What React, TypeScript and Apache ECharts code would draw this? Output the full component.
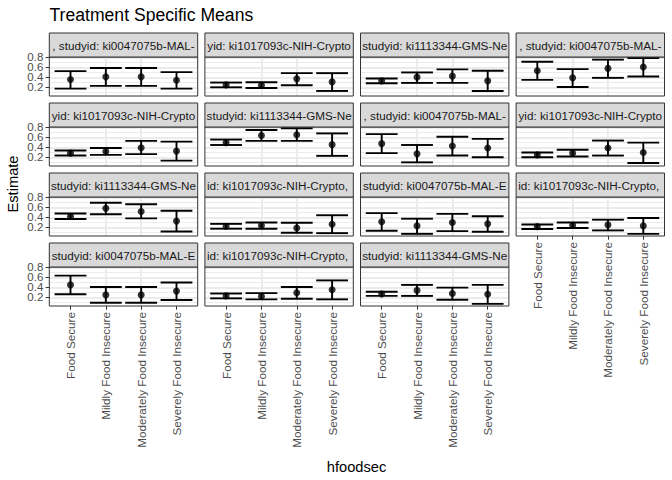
import React, { useEffect, useRef } from "react";
import * as echarts from "echarts";

const categories = [
  "Food Secure",
  "Mildly Food Insecure",
  "Moderately Food Insecure",
  "Severely Food Insecure",
];

const stripLabels = [
  ", studyid: ki0047075b-MAL-",
  "yid: ki1017093c-NIH-Crypto",
  "studyid: ki1113344-GMS-Ne",
  ", studyid: ki0047075b-MAL-",
  "yid: ki1017093c-NIH-Crypto",
  "studyid: ki1113344-GMS-Ne",
  ", studyid: ki0047075b-MAL-",
  "yid: ki1017093c-NIH-Crypto",
  "studyid: ki1113344-GMS-Ne",
  "id: ki1017093c-NIH-Crypto, ",
  "studyid: ki0047075b-MAL-E",
  "id: ki1017093c-NIH-Crypto, ",
  "studyid: ki0047075b-MAL-E",
  "id: ki1017093c-NIH-Crypto, ",
  "studyid: ki1113344-GMS-Ne",
];

const estimate = [
  [0.356, 0.409, 0.409, 0.342],
  [0.248, 0.241, 0.369, 0.308],
  [0.329, 0.403, 0.423, 0.329],
  [0.531, 0.389, 0.578, 0.605],
  [0.283, 0.317, 0.392, 0.324],
  [0.494, 0.637, 0.65, 0.453],
  [0.473, 0.269, 0.426, 0.385],
  [0.249, 0.283, 0.385, 0.297],
  [0.421, 0.579, 0.517, 0.324],
  [0.221, 0.234, 0.186, 0.262],
  [0.31, 0.228, 0.297, 0.269],
  [0.214, 0.241, 0.248, 0.228],
  [0.448, 0.248, 0.248, 0.324],
  [0.228, 0.221, 0.29, 0.352],
  [0.269, 0.338, 0.276, 0.262],
];

const lower = [
  [0.174, 0.228, 0.228, 0.174],
  [0.2, 0.187, 0.241, 0.127],
  [0.281, 0.288, 0.288, 0.127],
  [0.349, 0.207, 0.389, 0.416],
  [0.235, 0.249, 0.263, 0.133],
  [0.446, 0.528, 0.528, 0.229],
  [0.283, 0.099, 0.235, 0.201],
  [0.201, 0.215, 0.235, 0.086],
  [0.366, 0.462, 0.379, 0.117],
  [0.172, 0.172, 0.09, 0.083],
  [0.131, 0.069, 0.124, 0.11],
  [0.166, 0.186, 0.138, 0.069],
  [0.262, 0.09, 0.09, 0.145],
  [0.179, 0.159, 0.172, 0.159],
  [0.228, 0.228, 0.152, 0.069],
];

const upper = [
  [0.524, 0.585, 0.585, 0.504],
  [0.295, 0.3, 0.483, 0.483],
  [0.376, 0.497, 0.558, 0.531],
  [0.712, 0.564, 0.753, 0.787],
  [0.337, 0.385, 0.528, 0.514],
  [0.555, 0.746, 0.78, 0.678],
  [0.664, 0.446, 0.61, 0.569],
  [0.297, 0.351, 0.535, 0.494],
  [0.476, 0.69, 0.662, 0.531],
  [0.269, 0.297, 0.29, 0.441],
  [0.483, 0.372, 0.469, 0.421],
  [0.255, 0.297, 0.352, 0.386],
  [0.634, 0.407, 0.407, 0.497],
  [0.276, 0.283, 0.407, 0.538],
  [0.31, 0.448, 0.393, 0.448],
];

const yTicks = [0.2, 0.4, 0.6, 0.8];
const xTicks = [1, 2, 3, 4];
const Y_MIN = 0.026;
const Y_MAX = 0.806;

const FONT = "'Liberation Sans', Arial, Helvetica, sans-serif";
const COLS = 4;
const PANEL_LEFT0 = 49.3;
const PANEL_PITCH_X = 155.6;
const PANEL_W = 148.4;
const STRIP_TOP0 = 33;
const ROW_PITCH = 70;
const STRIP_H = 24;
const PANEL_H = 39;

export default function App() {
  const ref = useRef<HTMLDivElement>(null);

  useEffect(() => {
    if (!ref.current) return;
    const chart = echarts.init(ref.current, undefined, { renderer: "svg" });
    const n = stripLabels.length;
    const grids: any[] = [];
    const xAxes: any[] = [];
    const yAxes: any[] = [];
    const series: any[] = [];
    const graphics: any[] = [];
    // extents wrap the real ticks; ECharts hides the first/last entry
    const yTickValues = [Y_MIN, ...yTicks, Y_MAX];

    for (let k = 0; k < n; k++) {
      const col = k % COLS;
      const row = Math.floor(k / COLS);
      const left = PANEL_LEFT0 + col * PANEL_PITCH_X;
      const stripTop = STRIP_TOP0 + row * ROW_PITCH;
      const top = stripTop + STRIP_H;
      const isBottom = k + COLS >= n;
      const isLeft = col === 0;

      grids.push({
        left,
        top,
        width: PANEL_W,
        height: PANEL_H,
        show: true,
        backgroundColor: "#FFFFFF",
        borderWidth: 0,
        containLabel: false,
        outerBoundsMode: "none",
      });

      xAxes.push({
        type: "value",
        gridIndex: k,
        min: 0.4,
        max: 4.6,
        axisLine: { show: false },
        axisTick: {
          show: isBottom,
          length: 3.7,
          customValues: xTicks,
          lineStyle: { color: "#333333", width: 1 },
        },
        axisLabel: {
          show: isBottom,
          customValues: xTicks,
          rotate: 90,
          margin: 6,
          fontSize: 11.7,
          fontFamily: FONT,
          color: "#4D4D4D",
          showMinLabel: true,
          showMaxLabel: true,
          hideOverlap: false,
          formatter: (v: number) =>
            Number.isInteger(v) && v >= 1 && v <= 4 ? categories[v - 1] : "",
        },
        splitLine: {
          show: true,
          showMinLine: false,
          showMaxLine: false,
          lineStyle: { color: "#EBEBEB", width: 1.9 },
        },
      });

      yAxes.push({
        type: "value",
        gridIndex: k,
        min: Y_MIN,
        max: Y_MAX,
        splitNumber: 4,
        axisLine: { show: false },
        axisTick: {
          show: isLeft,
          length: 3.7,
          customValues: yTickValues,
          lineStyle: { color: "#333333", width: 1 },
        },
        axisLabel: {
          show: isLeft,
          customValues: yTickValues,
          margin: 6,
          fontSize: 11.5,
          lineHeight: 9,
          fontFamily: FONT,
          color: "#4D4D4D",
          showMinLabel: false,
          showMaxLabel: false,
          hideOverlap: false,
          formatter: (v: number) =>
            v > 0.1 && v < 0.805 && Math.abs(v * 5 - Math.round(v * 5)) < 1e-6
              ? v.toFixed(1)
              : "",
        },
        splitLine: {
          show: true,
          showMinLine: false,
          showMaxLine: false,
          lineStyle: { color: "#EBEBEB", width: 1.9 },
        },
        minorTick: { show: false, splitNumber: 2 },
        minorSplitLine: {
          show: true,
          lineStyle: { color: "#EBEBEB", width: 0.95 },
        },
      });

      const barData = categories.map((_, i) => [xTicks[i], lower[k][i], upper[k][i]]);
      const ptData = categories.map((_, i) => [xTicks[i], estimate[k][i]]);

      series.push({
        type: "custom",
        xAxisIndex: k,
        yAxisIndex: k,
        data: barData,
        encode: { x: 0, y: [1, 2] },
        z: 3,
        silent: true,
        renderItem: (params: any, api: any) => {
          const x = api.value(0);
          const lo = api.value(1);
          const hi = api.value(2);
          const pLo = api.coord([x, lo]);
          const pHi = api.coord([x, hi]);
          const half = api.size([0.9, 0])[0] / 2;
          const st = { stroke: "#000000", lineWidth: 1.9 };
          return {
            type: "group",
            children: [
              { type: "line", shape: { x1: pLo[0], y1: pLo[1], x2: pHi[0], y2: pHi[1] }, style: st },
              { type: "line", shape: { x1: pLo[0] - half, y1: pLo[1], x2: pLo[0] + half, y2: pLo[1] }, style: st },
              { type: "line", shape: { x1: pHi[0] - half, y1: pHi[1], x2: pHi[0] + half, y2: pHi[1] }, style: st },
            ],
          };
        },
      });

      series.push({
        type: "scatter",
        xAxisIndex: k,
        yAxisIndex: k,
        data: ptData,
        symbol: "circle",
        symbolSize: 7,
        itemStyle: { color: "#000000" },
        z: 4,
        silent: true,
      });

      graphics.push({
        type: "rect",
        z: 100,
        silent: true,
        shape: { x: left, y: top, width: PANEL_W, height: PANEL_H },
        style: { fill: "none", stroke: "#333333", lineWidth: 1 },
      });
      graphics.push({
        type: "rect",
        z: 100,
        silent: true,
        shape: { x: left, y: stripTop, width: PANEL_W, height: STRIP_H },
        style: { fill: "#D9D9D9", stroke: "#333333", lineWidth: 1 },
      });
      graphics.push({
        type: "text",
        z: 101,
        silent: true,
        x: left + PANEL_W / 2,
        y: stripTop + STRIP_H / 2 + 0.5,
        style: {
          text: stripLabels[k],
          fontSize: 11.7,
          fontFamily: FONT,
          fill: "#1A1A1A",
          align: "center",
          verticalAlign: "middle",
          width: PANEL_W - 1,
          overflow: "truncate",
          ellipsis: "",
        },
      });
    }

    graphics.push({
      type: "text",
      z: 101,
      x: 49.5,
      y: 15,
      style: {
        text: "Treatment Specific Means",
        fontSize: 17.6,
        fontFamily: FONT,
        fill: "#000000",
        align: "left",
        verticalAlign: "middle",
      },
    });
    graphics.push({
      type: "text",
      z: 101,
      x: 13,
      y: 184,
      rotation: Math.PI / 2,
      style: {
        text: "Estimate",
        fontSize: 14.67,
        fontFamily: FONT,
        fill: "#000000",
        align: "center",
        verticalAlign: "middle",
      },
    });
    graphics.push({
      type: "text",
      z: 101,
      x: 356.5,
      y: 467,
      style: {
        text: "hfoodsec",
        fontSize: 14.67,
        fontFamily: FONT,
        fill: "#000000",
        align: "center",
        verticalAlign: "middle",
      },
    });

    chart.setOption({
      animation: false,
      backgroundColor: "#FFFFFF",
      grid: grids,
      xAxis: xAxes,
      yAxis: yAxes,
      series,
      graphic: { z: 100, elements: graphics },
    });

    return () => {
      chart.dispose();
    };
  }, []);

  return (
    <div
      ref={ref}
      style={{ position: "absolute", left: 0, top: 0, width: 672, height: 480 }}
    />
  );
}
